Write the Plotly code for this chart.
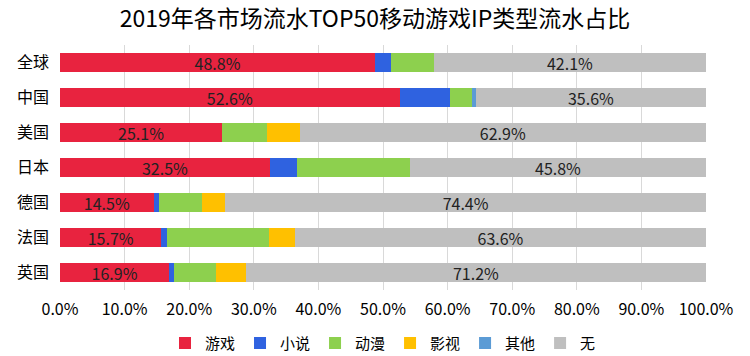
import plotly.graph_objects as go

markets = ["全球", "中国", "美国", "日本", "德国", "法国", "英国"]
series_names = ["游戏", "小说", "动漫", "影视", "其他", "无"]
game = [48.8, 52.6, 25.1, 32.5, 14.5, 15.7, 16.9]
novel = [2.5, 7.8, 0.0, 4.2, 0.8, 0.9, 0.7]
anime = [6.6, 3.4, 7.0, 17.5, 6.7, 15.7, 6.5]
film = [0.0, 0.0, 5.0, 0.0, 3.6, 4.1, 4.7]
other = [0.0, 0.6, 0.0, 0.0, 0.0, 0.0, 0.0]
none_ = [42.1, 35.6, 62.9, 45.8, 74.4, 63.6, 71.2]
x_ticks = [0, 10, 20, 30, 40, 50, 60, 70, 80, 90, 100]
x_tick_labels = [f"{v:.1f}%" for v in x_ticks]

colors = ["#E8233F", "#2F62E0", "#8DD04E", "#FFC000", "#5B9BD5", "#BFBFBF"]
values = [game, novel, anime, film, other, none_]
show_labels = [True, False, False, False, False, True]

font_family = "Noto Sans CJK SC"
fig = go.Figure()
for name, vals, col, lab in zip(series_names, values, colors, show_labels):
    fig.add_trace(go.Bar(
        y=markets, x=vals, name=name, orientation="h",
        marker=dict(color=col, line=dict(width=0)),
        text=[f"{v:.1f}%" for v in vals] if lab else None,
        textposition="inside" if lab else "none",
        insidetextanchor="middle",
        textfont=dict(color="#222222", size=16, family=font_family),
        hoverinfo="x+name",
    ))

fig.update_layout(
    barmode="stack",
    bargap=0.43,
    width=750, height=356,
    margin=dict(l=60, r=44, t=45, b=66, autoexpand=False),
    paper_bgcolor="white", plot_bgcolor="white",
    font=dict(family=font_family, color="#000000"),
    title=dict(text="2019年各市场流水TOP50移动游戏IP类型流水占比",
               x=0.5, xanchor="center", y=0.947, yanchor="middle",
               font=dict(size=23, color="#000000", family=font_family)),
    xaxis=dict(range=[0, 100], tickvals=x_ticks, ticktext=x_tick_labels,
               showgrid=True, gridcolor="#D9D9D9", gridwidth=1,
               zeroline=False, showline=False, ticks="", automargin=False,
               ticklabelstandoff=8,
               tickfont=dict(size=16, color="#000000")),
    yaxis=dict(categoryorder="array", categoryarray=markets, autorange="reversed",
               showgrid=False, showline=False, ticks="", automargin=False,
               ticklabelstandoff=10,
               tickfont=dict(size=16, color="#000000")),
    legend=dict(orientation="h", x=0.5, xanchor="center", y=-0.15, yanchor="top",
                font=dict(size=15, color="#000000"), traceorder="normal",
                itemwidth=30),
    uniformtext=dict(mode="show", minsize=10),
)

fig.write_html("out.html", config={"displayModeBar": False},
               post_script="document.body.style.margin='0';")
